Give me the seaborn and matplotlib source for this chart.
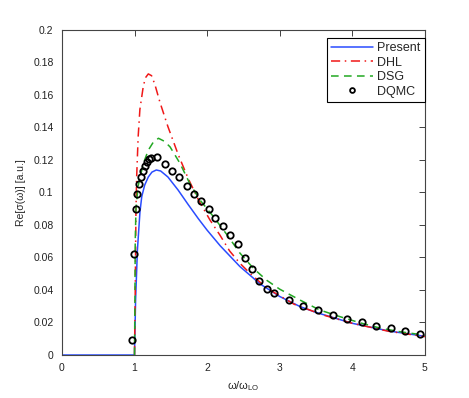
import pandas as pd
import matplotlib
matplotlib.use("Agg")
import matplotlib.pyplot as plt
import seaborn as sns

# Present (blue solid)
present_x = [0, 1.0, 1.005, 1.015, 1.04, 1.075, 1.1, 1.14, 1.19, 1.24, 1.30, 1.36, 1.46, 1.6, 1.74,
             1.88, 2.0, 2.18, 2.45, 2.73, 3.0, 3.28, 3.5, 4.0, 4.5, 5.0]
present_y = [0, 0, 0.012, 0.034, 0.0646, 0.088, 0.0975, 0.1045, 0.1095, 0.1125, 0.1138, 0.1132, 0.1095,
             0.1015, 0.0925, 0.0838, 0.0768, 0.0672, 0.0545, 0.0437, 0.036, 0.0298, 0.0262, 0.0195,
             0.0148, 0.0115]

# DHL (red dash-dot)
dhl_x = [1.0, 1.01, 1.02, 1.03, 1.05, 1.074, 1.12, 1.15, 1.19, 1.235, 1.28, 1.35, 1.46, 1.6, 1.74,
         1.88, 2.04, 2.18, 2.31, 2.45, 2.59, 2.73, 2.91, 3.2, 3.6, 4.0, 4.5, 5.0]
dhl_y = [0, 0.04, 0.089, 0.11, 0.134, 0.151, 0.165, 0.1705, 0.1729, 0.1718, 0.1665, 0.1555, 0.1405,
         0.1235, 0.1085, 0.0955, 0.083, 0.0735, 0.064, 0.0565, 0.0503, 0.0447, 0.0388, 0.0312,
         0.0246, 0.0195, 0.0146, 0.0113]

# DSG (green dashed)
dsg_x = [1.0, 1.005, 1.01, 1.02, 1.05, 1.09, 1.14, 1.19, 1.26, 1.33, 1.41, 1.49, 1.625, 1.76, 1.9,
         2.08, 2.27, 2.45, 2.64, 2.82, 3.0, 3.28, 3.55, 3.83, 4.1, 4.38, 4.66, 5.0]
dsg_y = [0, 0.03, 0.07, 0.09, 0.104, 0.112, 0.12, 0.126, 0.131, 0.1333, 0.1315, 0.128, 0.118, 0.1056,
         0.0954, 0.0855, 0.0742, 0.0628, 0.0532, 0.046, 0.0405, 0.0338, 0.0277, 0.0236, 0.0199,
         0.0166, 0.0143, 0.0122]

# DQMC (open circles)
dqmc_x = [0.96, 0.99, 1.015, 1.04, 1.065, 1.09, 1.115, 1.14, 1.17, 1.2, 1.225, 1.31, 1.42, 1.515,
          1.615, 1.72, 1.82, 1.92, 2.02, 2.11, 2.22, 2.32, 2.42, 2.525, 2.625, 2.72, 2.82, 2.92,
          3.13, 3.32, 3.53, 3.73, 3.93, 4.13, 4.33, 4.53, 4.73, 4.93]
dqmc_y = [0.0095, 0.062, 0.0897, 0.0988, 0.105, 0.1097, 0.1132, 0.1163, 0.119, 0.1204, 0.1212,
          0.1216, 0.1173, 0.1134, 0.1093, 0.104, 0.0988, 0.095, 0.0897, 0.0841, 0.0794, 0.0736,
          0.0683, 0.0597, 0.0531, 0.0455, 0.0407, 0.0381, 0.0337, 0.0304, 0.0279, 0.0248, 0.0223,
          0.0201, 0.018, 0.0164, 0.0146, 0.0131]

sns.set_style("white")
plt.rcParams['font.family'] = ['Liberation Sans', 'DejaVu Sans']
plt.rcParams['mathtext.fontset'] = 'custom'
plt.rcParams['mathtext.rm'] = 'Liberation Sans'

fig = plt.figure(figsize=(4.69, 3.98), dpi=100)
ax = fig.add_axes([0.132, 0.108, 0.774, 0.817])

df_p = pd.DataFrame({"x": present_x, "y": present_y})
df_r = pd.DataFrame({"x": dhl_x, "y": dhl_y})
df_g = pd.DataFrame({"x": dsg_x, "y": dsg_y})
df_q = pd.DataFrame({"x": dqmc_x, "y": dqmc_y})

sns.lineplot(data=df_p, x="x", y="y", color="#2a4cff", lw=1.1, ax=ax, label="Present", sort=False)
sns.lineplot(data=df_r, x="x", y="y", color="#f01818", lw=1.1, ax=ax, label="DHL", sort=False)
ax.lines[-1].set_linestyle((0, (6, 3, 1, 3)))
sns.lineplot(data=df_g, x="x", y="y", color="#22a822", lw=1.1, ax=ax, label="DSG", sort=False)
ax.lines[-1].set_linestyle((0, (5, 3.5)))
ax.plot(df_q["x"], df_q["y"], "o", mfc="none", mec="black", mew=1.3, ms=4.6, label="DQMC")

ax.set_xlim(0, 5)
ax.set_ylim(0, 0.2)
ax.set_xticks([0, 1, 2, 3, 4, 5])
yt = [0, 0.02, 0.04, 0.06, 0.08, 0.1, 0.12, 0.14, 0.16, 0.18, 0.2]
ax.set_yticks(yt)
ax.set_yticklabels(["0" if v == 0 else ("%g" % v) for v in yt])
ax.tick_params(direction="in", length=4, width=0.6, top=True, right=True, labelsize=7.5,
               colors="#222222", pad=6)
for s in ax.spines.values():
    s.set_color("#444444")
    s.set_linewidth(0.8)

ax.set_xlabel("ω/ω$_{\\mathregular{LO}}$", fontsize=8, labelpad=4)
ax.set_ylabel("Re[σ(ω)] [a.u.]", fontsize=7.5, labelpad=5)

leg = ax.legend(loc="upper right", bbox_to_anchor=(1.0, 0.975), fontsize=9, frameon=True,
                fancybox=False, edgecolor="black", framealpha=1, borderpad=0.35,
                handlelength=3.4, handletextpad=0.3, labelspacing=0.2, borderaxespad=0.0,
                markerscale=0.75)
leg.get_frame().set_linewidth(0.8)

plt.savefig("out.png", dpi=100)
